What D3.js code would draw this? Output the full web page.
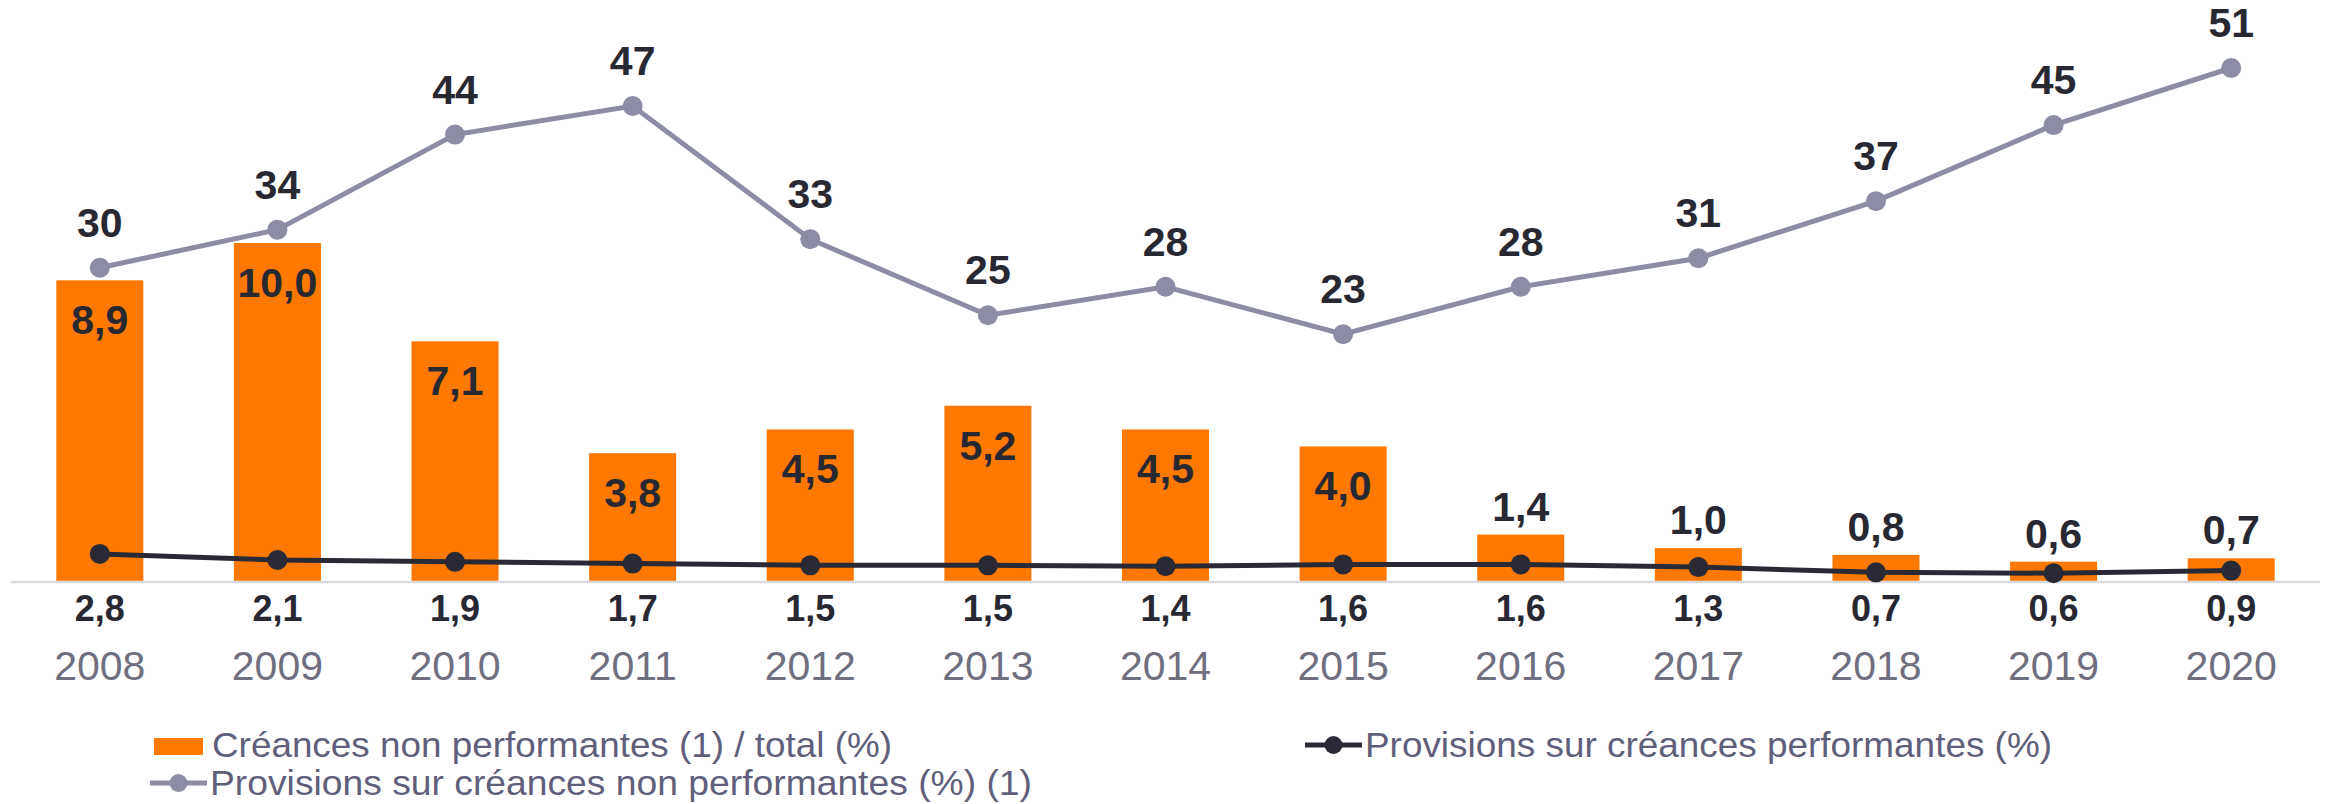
<!DOCTYPE html>
<html>
<head>
<meta charset="utf-8">
<script src="https://cdn.jsdelivr.net/npm/d3@7"></script>
<style>
  html, body { margin: 0; padding: 0; background: #ffffff; }
  svg { display: block; font-family: "Liberation Sans", Arial, sans-serif; }
</style>
</head>
<body>
<div id="chart"></div>
<script>
const years = ["2008", "2009", "2010", "2011", "2012", "2013", "2014", "2015", "2016", "2017", "2018", "2019", "2020"];
const npl = [8.9, 10.0, 7.1, 3.8, 4.5, 5.2, 4.5, 4.0, 1.4, 1.0, 0.8, 0.6, 0.7];
const provNpl = [30, 34, 44, 47, 33, 25, 28, 23, 28, 31, 37, 45, 51];
const provPerf = [2.8, 2.1, 1.9, 1.7, 1.5, 1.5, 1.4, 1.6, 1.6, 1.3, 0.7, 0.6, 0.9];
const legendLabels = [
    "Créances non performantes (1) / total (%)",
    "Provisions sur créances non performantes (%) (1)",
    "Provisions sur créances performantes (%)"
];

const ORANGE = "#ff7900";
const GREY_LINE = "#8c8ca4";
const DARK = "#2a2a36";
const LABEL = "#282833";

const width = 2328, height = 804;

const svg = d3.select("#chart").append("svg")
    .attr("width", width)
    .attr("height", height);

// three separate value scales sharing one band scale
const x = d3.scaleBand()
    .domain(years)
    .range([11, 2320])
    .paddingInner(0.51)
    .paddingOuter(0.255);

const yBar = d3.scaleLinear().domain([0, 10]).range([582, 243]);
const yProv = d3.scaleLinear().domain([0, 51]).range([553, 68]);
const yPerf = d3.scaleLinear().domain([0, 2.8]).range([578.5, 553.9]);

const fmt = v => d3.format(".1f")(v).replace(".", ",");
const cx = (d, i) => x(years[i]) + x.bandwidth() / 2;

// bars
svg.append("g")
    .selectAll("rect")
    .data(npl)
    .enter().append("rect")
    .attr("x", (d, i) => x(years[i]))
    .attr("y", d => yBar(d))
    .attr("width", x.bandwidth())
    .attr("height", d => yBar(0) - yBar(d))
    .attr("fill", ORANGE);

// x axis line + year labels
const xAxis = svg.append("g")
    .attr("transform", `translate(0,${yBar(0)})`)
    .call(d3.axisBottom(x).tickSize(0).tickPadding(0));
xAxis.select(".domain")
    .attr("d", `M${x.range()[0]},0H${x.range()[1]}`)
    .attr("stroke", "#d9d9e0")
    .attr("stroke-width", 2.5);
xAxis.selectAll(".tick text")
    .attr("y", 98)
    .attr("dy", null)
    .attr("fill", "#6f6f7f")
    .attr("font-size", 41)
    .attr("font-family", "Liberation Sans, Arial, sans-serif");

// bar labels
svg.append("g")
    .selectAll("text")
    .data(npl)
    .enter().append("text")
    .attr("x", cx)
    .attr("y", d => d >= 2 ? yBar(d) + 54 : yBar(d) - 14)
    .attr("text-anchor", "middle")
    .attr("font-size", 41)
    .attr("font-weight", "bold")
    .attr("fill", LABEL)
    .text(fmt);

// provisions on performing loans (dark line)
const perfLine = d3.line()
    .x(cx)
    .y(d => yPerf(d));

svg.append("path")
    .datum(provPerf)
    .attr("d", perfLine)
    .attr("fill", "none")
    .attr("stroke", DARK)
    .attr("stroke-width", 5);

svg.append("g")
    .selectAll("circle")
    .data(provPerf)
    .enter().append("circle")
    .attr("cx", cx)
    .attr("cy", d => yPerf(d))
    .attr("r", 10)
    .attr("fill", DARK);

svg.append("g")
    .selectAll("text")
    .data(provPerf)
    .enter().append("text")
    .attr("x", cx)
    .attr("y", yBar(0) + 39)
    .attr("text-anchor", "middle")
    .attr("font-size", 36)
    .attr("font-weight", "bold")
    .attr("fill", LABEL)
    .text(fmt);

// provisions on non performing loans (grey line)
const provLine = d3.line()
    .x(cx)
    .y(d => yProv(d));

svg.append("path")
    .datum(provNpl)
    .attr("d", provLine)
    .attr("fill", "none")
    .attr("stroke", GREY_LINE)
    .attr("stroke-width", 5);

svg.append("g")
    .selectAll("circle")
    .data(provNpl)
    .enter().append("circle")
    .attr("cx", cx)
    .attr("cy", d => yProv(d))
    .attr("r", 10)
    .attr("fill", GREY_LINE);

svg.append("g")
    .selectAll("text")
    .data(provNpl)
    .enter().append("text")
    .attr("x", cx)
    .attr("y", d => yProv(d) - 31)
    .attr("text-anchor", "middle")
    .attr("font-size", 41)
    .attr("font-weight", "bold")
    .attr("fill", LABEL)
    .text(d => d);

// legend
const legend = svg.append("g")
    .attr("font-size", 35)
    .attr("fill", "#5f5f7b");

const items = [
    { x: 154, y: 757, type: "bar", color: ORANGE, w: 680 },
    { x: 150, y: 795, type: "line", color: GREY_LINE, w: 822 },
    { x: 1305, y: 757, type: "line", color: DARK, w: 687 }
];

items.forEach((it, i) => {
    const g = legend.append("g").attr("transform", `translate(${it.x},${it.y})`);
    if (it.type === "bar") {
        g.append("rect")
            .attr("x", 0).attr("y", -19)
            .attr("width", 49).attr("height", 17)
            .attr("fill", it.color);
    } else {
        g.append("line")
            .attr("x1", 0).attr("x2", 57)
            .attr("y1", -12).attr("y2", -12)
            .attr("stroke", it.color)
            .attr("stroke-width", 5);
        g.append("circle")
            .attr("cx", 28.5).attr("cy", -12)
            .attr("r", 9)
            .attr("fill", it.color);
    }
    g.append("text")
        .attr("x", it.type === "bar" ? 58 : 60)
        .attr("y", 0)
        .attr("textLength", it.w)
        .attr("lengthAdjust", "spacingAndGlyphs")
        .text(legendLabels[i]);
});
</script>
</body>
</html>
